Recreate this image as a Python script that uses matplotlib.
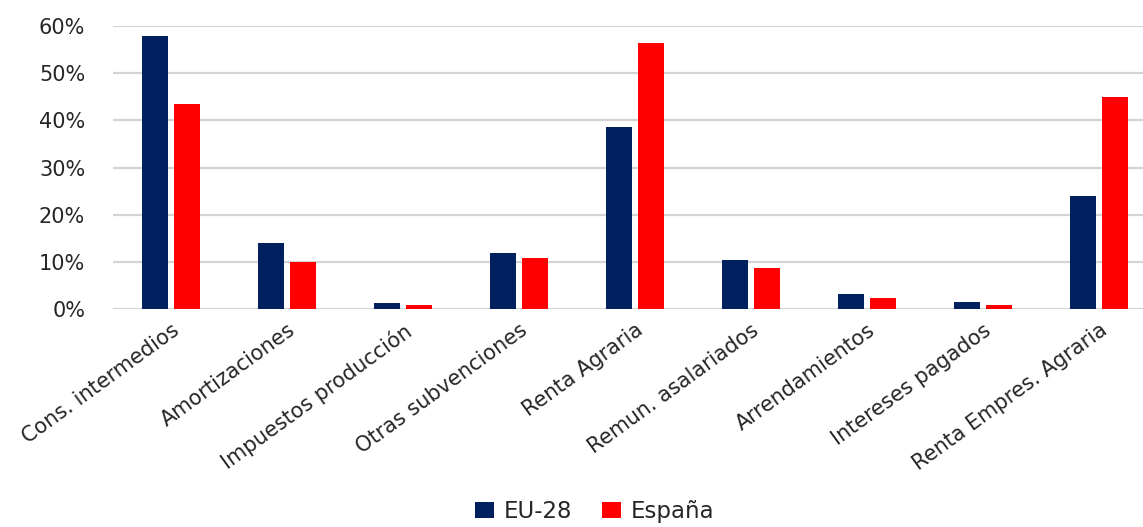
import numpy as np
import matplotlib
matplotlib.use("Agg")
import matplotlib.pyplot as plt
from matplotlib.ticker import PercentFormatter

# data (share, %)
categories = ["Cons. intermedios", "Amortizaciones", "Impuestos producción",
              "Otras subvenciones", "Renta Agraria", "Remun. asalariados",
              "Arrendamientos", "Intereses pagados", "Renta Empres. Agraria"]
eu28 = [57.8, 14.0, 1.2, 11.8, 38.6, 10.3, 3.1, 1.4, 23.9]
espana = [43.5, 10.0, 0.8, 10.8, 56.5, 8.6, 2.3, 0.8, 45.0]

plt.rcParams['font.family'] = ['DejaVu Sans']

fig = plt.figure(figsize=(11.43, 5.27), dpi=100)
ax = fig.add_axes([113 / 1143, 1 - 309 / 527, 1044 / 1143, 283 / 527])

x = np.arange(len(categories))
w = 0.224
off = 0.138
ax.bar(x - off, eu28, width=w, color="#002060", label="EU-28", zorder=3)
ax.bar(x + off, espana, width=w, color="#FF0000", label="España", zorder=3)

ax.set_xlim(-0.5, len(categories) - 0.5)
ax.set_ylim(0, 60)
ax.set_yticks(np.arange(0, 61, 10))
ax.yaxis.set_major_formatter(PercentFormatter(decimals=0))
ax.grid(axis="y", color="#D4D4D4", linewidth=1.6, zorder=0)
for s in ax.spines.values():
    s.set_visible(False)
ax.tick_params(axis="y", length=0, pad=20, labelsize=15, labelcolor="#262626")
ax.tick_params(axis="x", length=0, pad=8)
ax.set_xticks(x)
ax.set_xticklabels(categories, rotation=36, ha="right", rotation_mode="anchor",
                   fontsize=15, color="#262626")

fig.legend(loc="lower center", bbox_to_anchor=(0.52, -0.032), ncol=2, frameon=False,
           fontsize=16.5, handlelength=0.85, handleheight=0.7, columnspacing=1.3,
           handletextpad=0.4, labelcolor="#262626")

fig.savefig("out.png", dpi=100)
